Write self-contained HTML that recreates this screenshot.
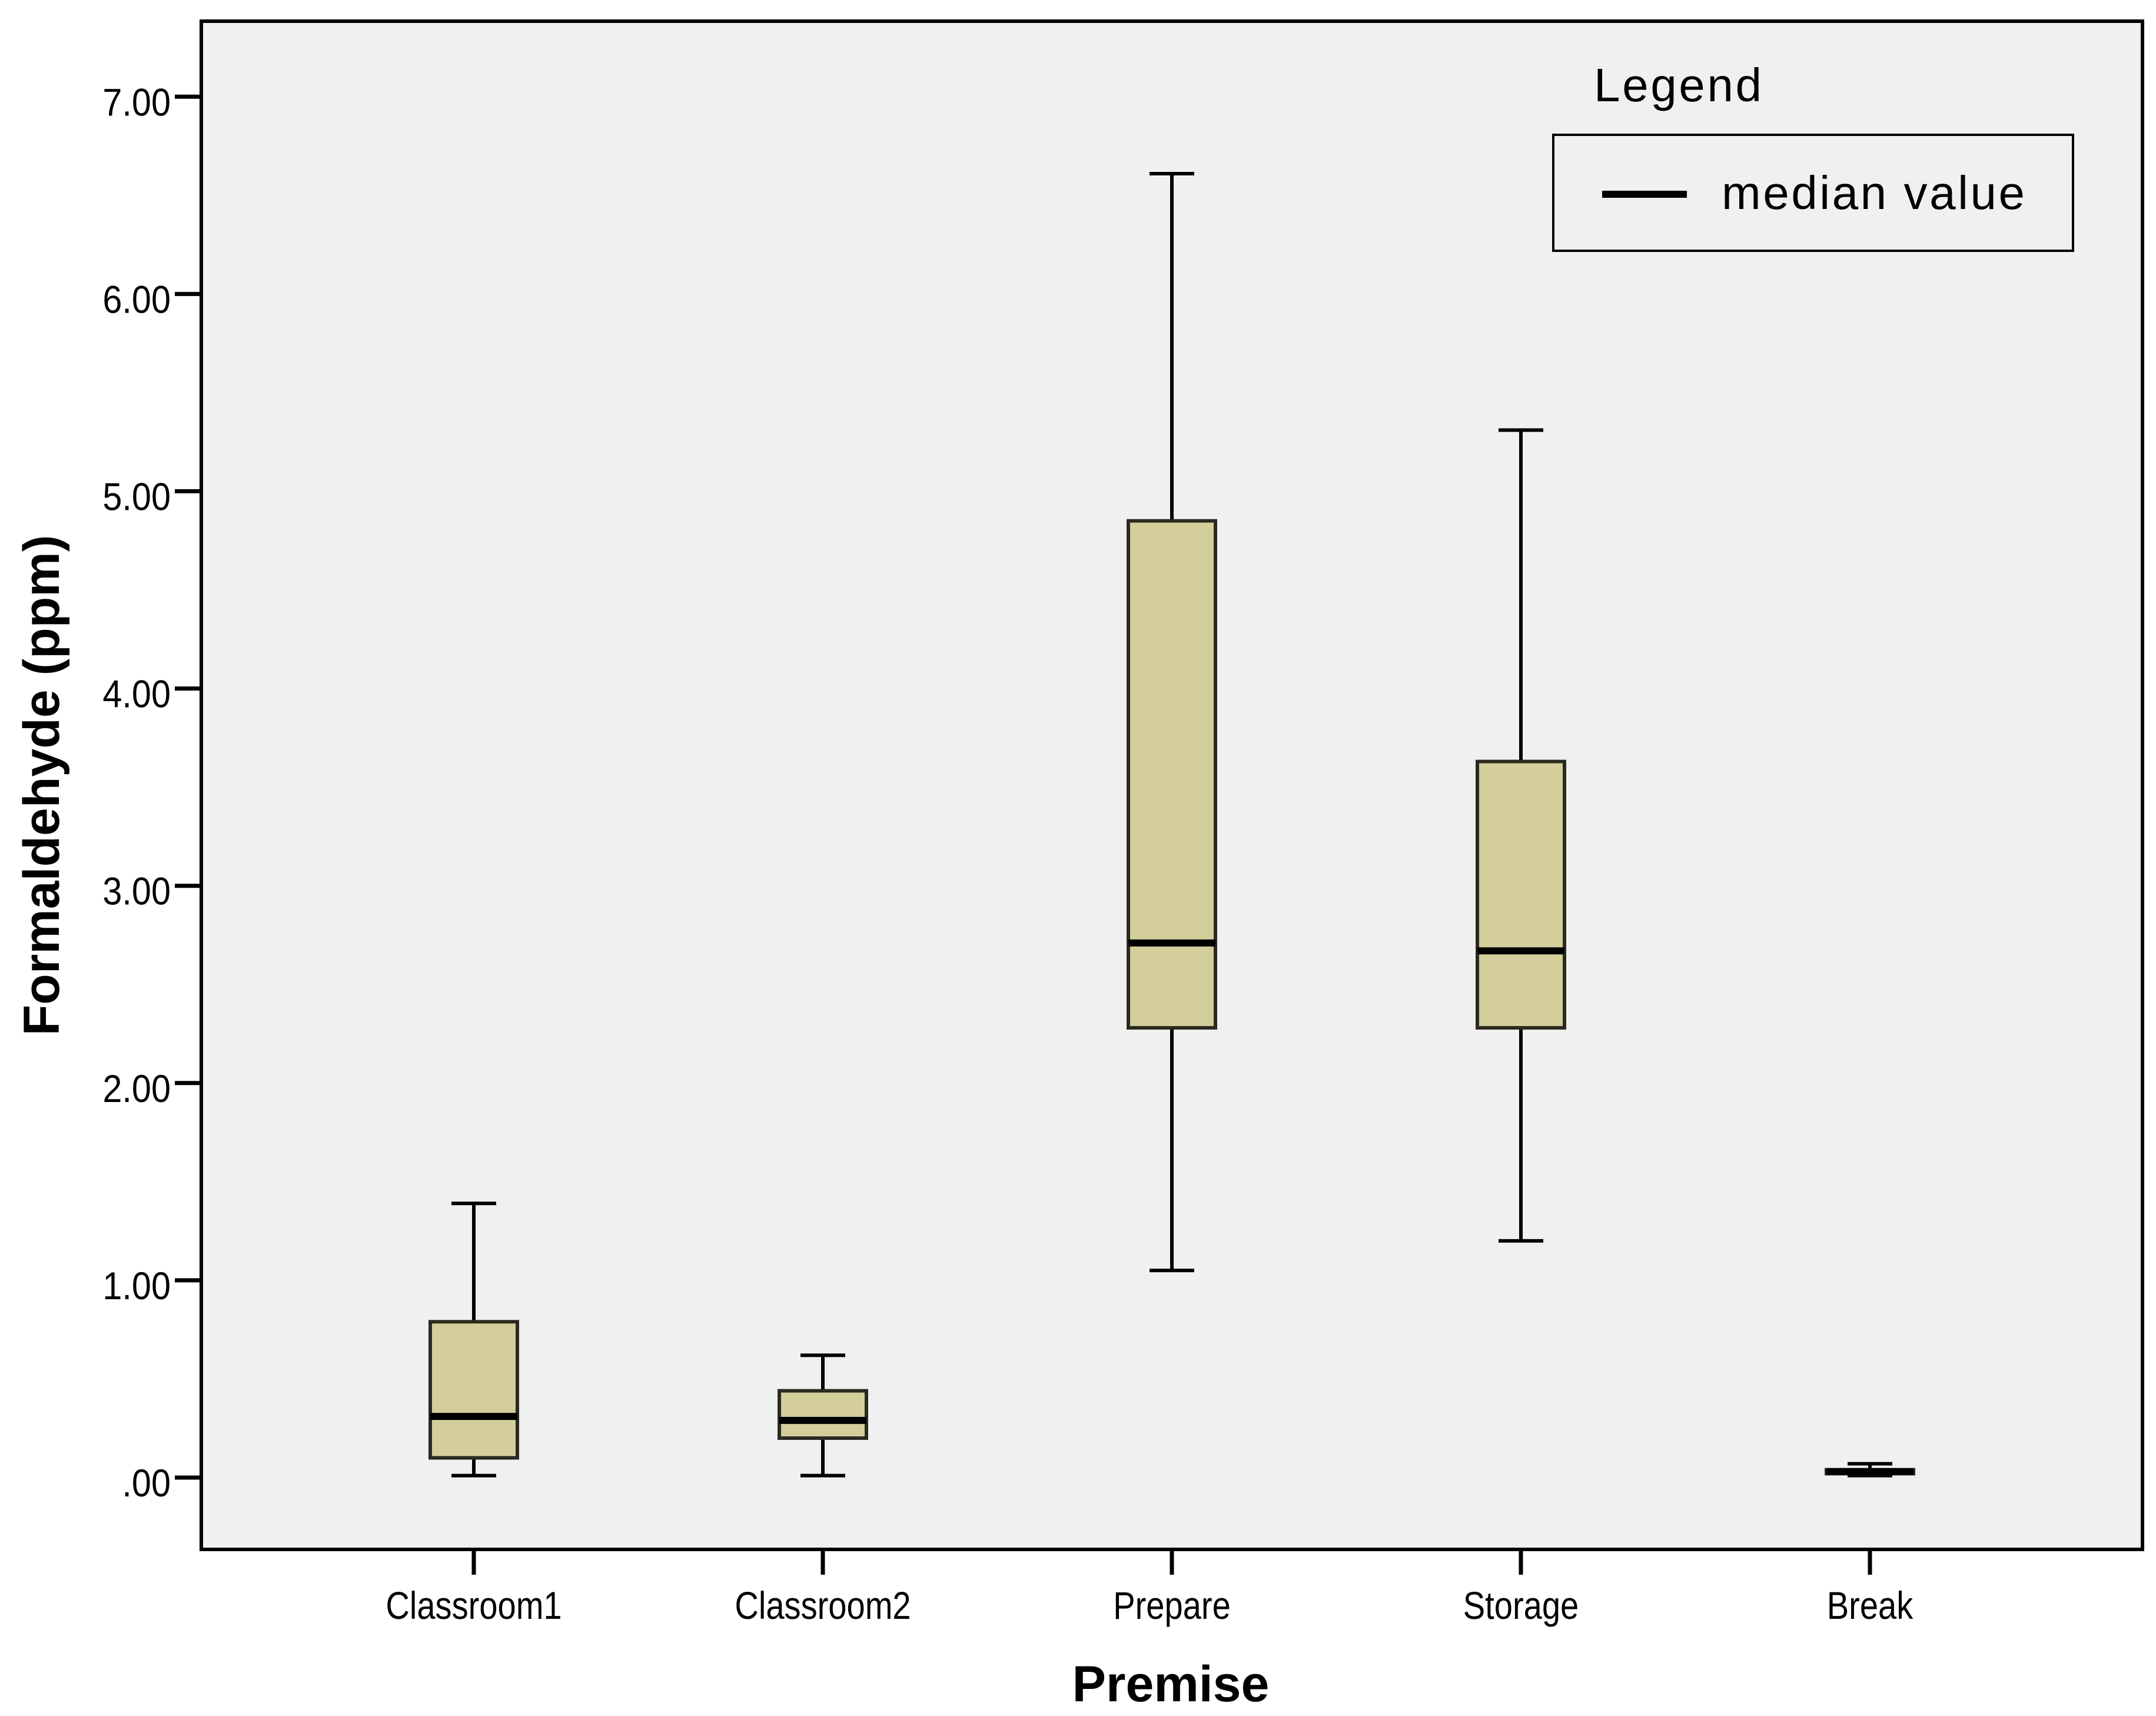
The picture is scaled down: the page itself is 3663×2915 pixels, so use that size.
<!DOCTYPE html>
<html><head><meta charset="utf-8"><style>
html,body{margin:0;padding:0;background:#fff}
svg{display:block}
text{font-family:"Liberation Sans",sans-serif}
</style></head><body>
<svg id="chart" width="3663" height="2915" viewBox="0 0 3663 2915">
<rect x="342" y="36" width="3298" height="2596" fill="#f0f0f0" stroke="#000" stroke-width="6"/>
<g id="yaxis"></g>
<g id="xaxis"></g>
<g id="boxes"></g>
<text x="100" y="1334" transform="rotate(-90 100 1334)" text-anchor="middle" font-size="86" font-weight="bold">Formaldehyde (ppm)</text>
<text x="1989" y="2890" text-anchor="middle" font-size="86" font-weight="bold">Premise</text>
<g>
<text x="2708" y="172" font-size="80" textLength="285">Legend</text>
<rect x="2639" y="229" width="883" height="197" fill="none" stroke="#000" stroke-width="4"/>
<line x1="2722" y1="330" x2="2866" y2="330" stroke="#000" stroke-width="12"/>
<text x="2925" y="355" font-size="80" textLength="515">median value</text>
</g>
</svg>
<script>
const categories=["Classroom1","Classroom2","Prepare","Storage","Break"];
const mins=[0.01,0.01,1.05,1.20,0.01];
const q1s=[0.10,0.20,2.28,2.28,0.02];
const medians=[0.31,0.29,2.71,2.67,0.03];
const q3s=[0.79,0.44,4.85,3.63,0.04];
const maxs=[1.39,0.62,6.61,5.31,0.07];
const yTicks=[0,1,2,3,4,5,6,7];
const yTickLabels=[".00","1.00","2.00","3.00","4.00","5.00","6.00","7.00"];
const NS="http://www.w3.org/2000/svg";
function y(v){return 2510-v*335.1;}
function x(i){return 805+i*593;}
function mk(tag,attrs,parent){const e=document.createElementNS(NS,tag);for(const k in attrs)e.setAttribute(k,attrs[k]);parent.appendChild(e);return e;}
const ya=document.getElementById('yaxis'),xa=document.getElementById('xaxis'),bx=document.getElementById('boxes');
yTicks.forEach((v,i)=>{
 const l=mk('line',{x1:297,x2:342,y1:y(v),y2:y(v),stroke:'#000','stroke-width':7},ya);
 
 
 const t=mk('text',{x:290,y:y(v)+32,'text-anchor':'end','font-size':66,transform:'translate(290 0) scale(0.9 1) translate(-290 0)'},ya);
 t.textContent=yTickLabels[i];
 
 
});
categories.forEach((c,i)=>{
 const cx=x(i);
 const l=mk('line',{x1:cx,x2:cx,y1:2635,y2:2675,stroke:'#000','stroke-width':7},xa);
 
 
 const t=mk('text',{x:cx,y:2750,'text-anchor':'middle','font-size':66,transform:'translate('+cx+' 0) scale(0.85 1) translate('+(-cx)+' 0)'},xa);
 t.textContent=c;
 
 
 const g=mk('g',{},bx);
 
 
 mk('line',{x1:cx,x2:cx,y1:y(maxs[i]),y2:y(q3s[i]),stroke:'#000','stroke-width':6},g);
 mk('line',{x1:cx,x2:cx,y1:y(q1s[i]),y2:y(mins[i]),stroke:'#000','stroke-width':6},g);
 mk('line',{x1:cx-38,x2:cx+38,y1:y(maxs[i]),y2:y(maxs[i]),stroke:'#000','stroke-width':6},g);
 mk('line',{x1:cx-38,x2:cx+38,y1:y(mins[i]),y2:y(mins[i]),stroke:'#000','stroke-width':6},g);
 mk('rect',{x:cx-74,y:y(q3s[i]),width:148,height:Math.max(1,y(q1s[i])-y(q3s[i])),fill:'#d4cf9a',stroke:'#2a2a20','stroke-width':6},g);
 mk('line',{x1:cx-74,x2:cx+74,y1:y(medians[i]),y2:y(medians[i]),stroke:'#000','stroke-width':12},g);
});
</script>
</body></html>
